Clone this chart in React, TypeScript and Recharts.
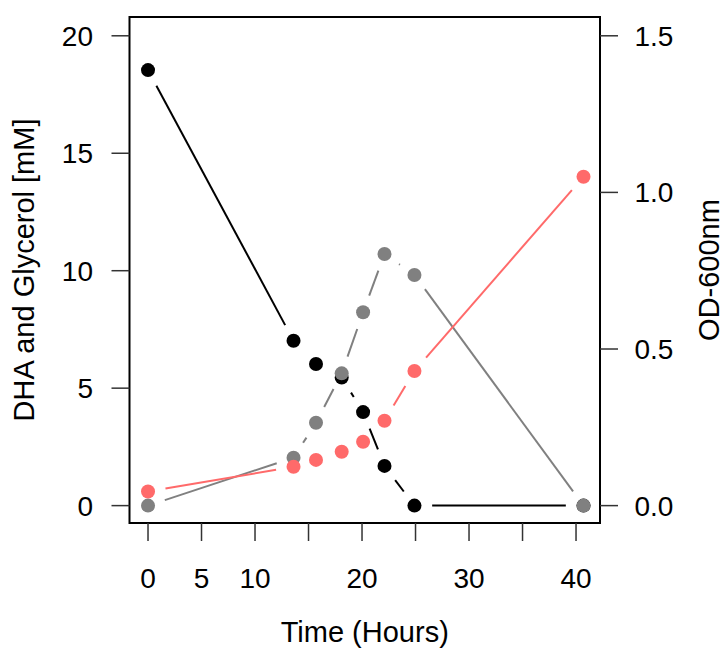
import React from "react";
import {
  ComposedChart,
  Scatter,
  XAxis,
  YAxis,
  ReferenceArea,
} from "recharts";

// ---- data ----
const hours = [0, 13.6, 15.7, 18.1, 20.1, 22.1, 24.9, 40.7];
const dha = [18.54, 7.02, 6.03, 5.45, 3.98, 1.69, 0, 0];
const glycerol = [0, 2.04, 3.53, 5.63, 8.23, 10.71, 9.82, 0];
const od600 = [0.045, 0.124, 0.146, 0.172, 0.204, 0.271, 0.43, 1.05];

const xTicks = [0, 5, 10, 15, 20, 25, 30, 35, 40];
const xTickLabels = ["0", "5", "10", "", "20", "", "30", "", "40"];
const leftTicks = [0, 5, 10, 15, 20];
const rightTicks = [0, 0.5, 1.0, 1.5];

const dhaData = hours.map((t, i) => ({ t, v: dha[i] }));
const glyData = hours.map((t, i) => ({ t, v: glycerol[i] }));
const odData = hours.map((t, i) => ({ t, v: od600[i] }));

const X_DOMAIN: [number, number] = [-1.73, 42.24];
const L_DOMAIN: [number, number] = [-0.74, 20.8];
const R_DOMAIN: [number, number] = [-0.0555, 1.56];

const BLACK = "#000000";
const GRAY = "#808080";
const RED = "#FF6A6A";
const GAP = 17.7;
const FONT = "'Liberation Sans', Arial, sans-serif";

// R type="b": line segments shortened around each point
function GappedLine(props: any) {
  const pts = props.points || [];
  const color = props.color;
  const segs: any[] = [];
  for (let i = 0; i < pts.length - 1; i++) {
    const a = pts[i];
    const b = pts[i + 1];
    const dx = b.x - a.x;
    const dy = b.y - a.y;
    const d = Math.hypot(dx, dy);
    if (d <= 2 * GAP) continue;
    const ux = dx / d;
    const uy = dy / d;
    segs.push(
      <line
        key={i}
        x1={a.x + ux * GAP}
        y1={a.y + uy * GAP}
        x2={b.x - ux * GAP}
        y2={b.y - uy * GAP}
        stroke={color}
        strokeWidth={2}
      />
    );
  }
  return <g>{segs}</g>;
}

const dot = (color: string) => (p: any) => (
  <circle cx={p.cx} cy={p.cy} r={7} fill={color} stroke="none" />
);

export default function App() {
  const tickStyle = { fill: "#000", fontSize: 28, fontFamily: FONT };
  const tickLine = { stroke: "#333", strokeWidth: 1.5 };
  const labelStyle = { fontSize: 29, fontFamily: FONT, fill: "#000" };
  return (
    <div style={{ position: "absolute", left: 0, top: 0, background: "#fff" }}>
      <ComposedChart
        width={724}
        height={648}
        margin={{ top: 17, right: 0, bottom: 0, left: 0 }}
        style={{ fontFamily: FONT }}
      >
        <XAxis
          dataKey="t"
          type="number"
          domain={X_DOMAIN}
          ticks={xTicks}
          tickFormatter={(v: number) => xTickLabels[xTicks.indexOf(v)] ?? ""}
          height={125}
          axisLine={false}
          tickLine={tickLine}
          tickSize={18}
          tickMargin={27.5}
          tick={tickStyle}
          interval={0}
          label={{
            value: "Time (Hours)",
            position: "insideBottom",
            offset: 6.3,
            style: labelStyle,
          }}
        />
        <YAxis
          yAxisId="left"
          type="number"
          domain={L_DOMAIN}
          ticks={leftTicks}
          width={129.5}
          axisLine={false}
          tickLine={tickLine}
          tickSize={18}
          tickMargin={18.5}
          tick={tickStyle}
          interval={0}
          label={{
            value: "DHA and Glycerol [mM]",
            angle: -90,
            position: "insideLeft",
            offset: 23.3,
            style: { ...labelStyle, textAnchor: "middle" },
          }}
        />
        <YAxis
          yAxisId="right"
          orientation="right"
          type="number"
          domain={R_DOMAIN}
          ticks={rightTicks}
          tickFormatter={(v: number) => v.toFixed(1)}
          width={124}
          axisLine={false}
          tickLine={tickLine}
          tickSize={18}
          tickMargin={16.5}
          tick={tickStyle}
          interval={0}
          label={{
            value: "OD-600nm",
            angle: -90,
            position: "insideRight",
            offset: 14.8,
            style: { ...labelStyle, textAnchor: "middle" },
          }}
        />
        <Scatter
          yAxisId="left"
          data={dhaData}
          dataKey="v"
          fill={BLACK}
          line={<GappedLine color={BLACK} />}
          lineType="joint"
          shape={dot(BLACK)}
          isAnimationActive={false}
        />
        <Scatter
          yAxisId="left"
          data={glyData}
          dataKey="v"
          fill={GRAY}
          line={<GappedLine color={GRAY} />}
          lineType="joint"
          shape={dot(GRAY)}
          isAnimationActive={false}
        />
        <Scatter
          yAxisId="right"
          data={odData}
          dataKey="v"
          fill={RED}
          line={<GappedLine color={RED} />}
          lineType="joint"
          shape={dot(RED)}
          isAnimationActive={false}
        />
        <ReferenceArea
          yAxisId="left"
          x1={X_DOMAIN[0]}
          x2={X_DOMAIN[1]}
          y1={L_DOMAIN[0]}
          y2={L_DOMAIN[1]}
          fill="none"
          stroke="#000"
          strokeWidth={2}
          ifOverflow="visible"
        />
      </ComposedChart>
    </div>
  );
}
